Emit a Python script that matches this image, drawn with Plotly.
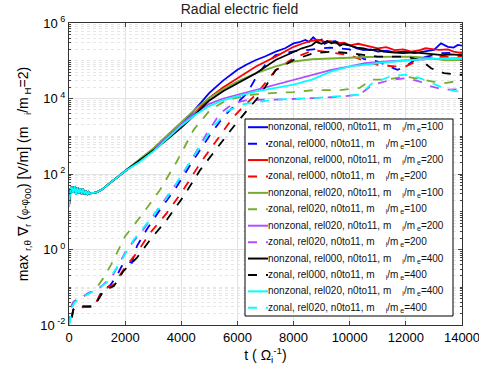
import numpy as np
import plotly.graph_objects as go

# ---------------- data (values are log10 of the field) ----
t_early = [0, 30, 60, 100, 150, 200, 250, 300, 350, 400, 450, 500, 550, 600, 650, 700,
           750, 800, 900, 1000, 1100, 1200, 1350, 1500, 1750, 2000]
early_log = [1.15, 1.4, 1.62, 1.66, 1.5, 1.68, 1.45, 1.65, 1.48, 1.62, 1.47, 1.6, 1.46, 1.56,
             1.45, 1.52, 1.47, 1.5, 1.5, 1.52, 1.55, 1.6, 1.7, 1.78, 1.93, 2.08]

blue_solid_t = [2500, 3000, 3500, 4000, 4500, 5000, 5500, 6000, 6330, 6660, 7000, 7360, 7700, 8000,
                8200, 8420, 8550, 8700, 8850, 9000, 9100, 9250, 9480, 9700, 10000, 10250, 10500,
                10750, 11000, 11300, 11600, 12000, 12300, 12600, 13000, 13250, 13500, 13700, 13850, 14000]
blue_solid_log = [2.37, 2.66, 2.98, 3.3, 3.72, 4.15, 4.48, 4.76, 4.9, 5.02, 5.12, 5.24, 5.33, 5.46,
                  5.49, 5.55, 5.5, 5.62, 5.52, 5.56, 5.45, 5.5, 5.52, 5.45, 5.41, 5.33, 5.28,
                  5.3, 5.24, 5.27, 5.22, 5.25, 5.2, 5.24, 5.29, 5.46, 5.37, 5.35, 5.42, 5.4]

red_solid_t = [2500, 3000, 3500, 4000, 4500, 5000, 5500, 6000, 6660, 7360, 8000, 8300, 8650, 8900,
               9100, 9300, 9500, 9800, 10000, 10300, 10550, 10800, 11000, 11300, 11600, 11900,
               12200, 12500, 12700, 13000, 13200, 13500, 13700, 14000]
red_solid_log = [2.35, 2.63, 2.93, 3.25, 3.62, 4.02, 4.3, 4.54, 4.85, 5.11, 5.37, 5.45, 5.53, 5.55,
                 5.5, 5.52, 5.46, 5.48, 5.41, 5.45, 5.41, 5.35, 5.33, 5.36, 5.28, 5.3,
                 5.24, 5.28, 5.33, 5.3, 5.29, 5.3, 5.24, 5.2]

black_solid_t = [2500, 3000, 3500, 4000, 4500, 5000, 5500, 6000, 6660, 7360, 8000, 8300, 8650, 8800,
                 9000, 9200, 9350, 9500, 9650, 9800, 10000, 10250, 10500, 10700, 11000, 11200,
                 11500, 11900, 12300, 12600, 13000, 13300, 13600, 14000]
black_solid_log = [2.34, 2.62, 2.92, 3.23, 3.58, 3.95, 4.2, 4.41, 4.67, 5.02, 5.24, 5.33, 5.41, 5.5,
                   5.45, 5.52, 5.46, 5.5, 5.4, 5.45, 5.41, 5.35, 5.33, 5.28, 5.3, 5.24,
                   5.22, 5.2, 5.22, 5.2, 5.18, 5.15, 5.17, 5.15]

green_solid_t = [2500, 3000, 3500, 4000, 4500, 5000, 5500, 6000, 6660, 7360, 8000, 8650, 9350, 10000,
                 10550, 11300, 12200, 12900, 13400, 14000]
green_solid_log = [2.38, 2.68, 3.03, 3.38, 3.72, 4.02, 4.25, 4.45, 4.67, 4.85, 4.98, 5.04, 5.07, 5.08,
                   5.1, 5.11, 5.11, 5.07, 5.01, 5.02]

purple_solid_t = [2500, 3000, 3500, 4000, 4500, 5000, 5500, 6000, 6660, 7360, 8000, 8650, 9350, 10000,
                  10550, 11300, 12200, 12900, 14000]
purple_solid_log = [2.33, 2.63, 2.98, 3.32, 3.62, 3.86, 4.0, 4.1, 4.23, 4.36, 4.5, 4.63, 4.76, 4.85,
                    4.94, 4.98, 5.02, 5.05, 5.07]

cyan_solid_t = [2500, 3000, 3500, 4000, 4500, 5000, 5500, 6000, 6660, 7360, 8000, 8650, 9350, 10000,
                10550, 11300, 12200, 12900, 14000]
cyan_solid_log = [2.31, 2.6, 2.94, 3.28, 3.57, 3.8, 3.96, 4.06, 4.19, 4.28, 4.37, 4.5, 4.72, 4.85,
                  4.9, 4.96, 5.02, 5.05, 5.05]

blue_dash_t = [100, 150, 300, 500, 700, 900, 1000, 1100, 1230, 1470, 1700, 1880, 2060, 2240, 2420,
               2770, 3250, 3840, 4440, 5030, 5510, 6000, 6340, 6700, 7000, 7360, 8000, 8700, 9300,
               10000, 10500, 11000, 11700, 12000, 12400, 12700, 13300, 14000]
blue_dash_log = [-1.8, -1.59, -1.5, -1.52, -1.5, -1.5, -1.38, -1.2, -1.06, -0.95, -0.7, -0.44, -0.3,
                 -0.35, 0.09, 0.53, 1.06, 1.67, 2.38, 3.04, 3.52, 3.88, 4.14, 4.6, 4.9, 5.15, 5.25,
                 5.3, 5.35, 5.3, 5.05, 4.98, 4.76, 4.85, 5.07, 5.1, 5.2, 5.22]

red_dash_t = [100, 150, 300, 500, 700, 900, 1000, 1230, 1600, 1940, 2416, 2892, 3487, 4082, 4677,
              5272, 5867, 6343, 6700, 7360, 8000, 8700, 9300, 10000, 10500, 11000, 11600, 12000,
              12400, 13000, 14000]
red_dash_log = [-1.8, -1.59, -1.5, -1.53, -1.5, -1.52, -1.35, -1.06, -0.93, -0.53, -0.09, 0.44, 0.97,
                1.59, 2.29, 2.91, 3.52, 3.88, 4.14, 4.75, 5.07, 5.28, 5.22, 5.15, 5.0, 4.89, 4.85,
                4.85, 5.0, 5.1, 5.12]

black_dash_t = [100, 150, 300, 500, 700, 900, 1000, 1230, 1600, 1940, 2416, 2892, 3487, 4082, 4677,
                5272, 5867, 6462, 6820, 7360, 8000, 8700, 9400, 10000, 10550, 11000, 11950, 12540,
                12900, 13360, 14000]
black_dash_log = [-1.8, -1.6, -1.52, -1.5, -1.52, -1.5, -1.38, -1.1, -0.97, -0.57, -0.22, 0.26, 0.79,
                  1.41, 2.11, 2.69, 3.26, 3.79, 4.1, 4.75, 5.02, 5.2, 5.24, 5.2, 5.15, 5.11, 5.11,
                  5.02, 4.8, 4.67, 4.63]

green_dash_t = [0, 60, 150, 300, 500, 700, 900, 1000, 1230, 1500, 2000, 2650, 3250, 3840, 4440, 5030,
                5630, 6000, 6500, 7360, 8000, 8700, 9650, 10350, 10800, 11300, 12000, 12500, 12950,
                13400, 14000]
green_dash_log = [-2.0, -1.55, -1.4, -1.3, -1.25, -1.15, -1.08, -1.0, -0.75, -0.4, 0.35, 0.97, 1.59,
                  2.33, 3.17, 3.7, 3.96, 4.02, 4.1, 4.15, 4.17, 4.22, 4.22, 4.28, 4.5, 4.5, 4.58,
                  4.52, 4.45, 4.41, 4.48]

purple_dash_t = [0, 60, 150, 300, 500, 700, 900, 1000, 1200, 1580, 2060, 2650, 3250, 3840, 4440, 4915,
                 5390, 5870, 6340, 7360, 8700, 9500, 10350, 10800, 11500, 12000, 12500, 12900, 13400,
                 14000]
purple_dash_log = [-2.0, -1.55, -1.4, -1.3, -1.25, -1.15, -1.1, -1.05, -0.95, -0.66, 0.0, 0.53, 1.15,
                   1.76, 2.47, 3.08, 3.61, 3.88, 3.96, 3.97, 4.01, 4.04, 4.1, 4.36, 4.5, 4.54, 4.45,
                   4.32, 4.23, 4.25]

cyan_dash_t = [0, 40, 100, 200, 400, 600, 800, 1000, 1340, 1820, 2300, 2890, 3490, 4080, 4680, 5150,
               5630, 6100, 6600, 7360, 8700, 9650, 10350, 10800, 11500, 12000, 12500, 13200, 13700,
               14000]
cyan_dash_log = [-2.0, -1.9, -1.55, -1.4, -1.3, -1.22, -1.12, -1.05, -0.88, -0.35, 0.26, 0.79, 1.37,
                 2.03, 2.73, 3.26, 3.66, 3.83, 3.9, 3.97, 4.01, 4.06, 4.1, 4.4, 4.6, 4.63, 4.54,
                 4.32, 4.2, 4.18]

y_tick_vals = [1e-2, 1e0, 1e2, 1e4, 1e6]
y_tick_text = ["10<sup> -2</sup>", "10<sup> 0</sup>", "10<sup> 2</sup>", "10<sup> 4</sup>", "10<sup> 6</sup>"]
x_tick_vals = [0, 2000, 4000, 6000, 8000, 10000, 12000, 14000]
x_tick_text = ["0", "2000", "4000", "6000", "8000", "10000", "12000", "14000"]

SP = "&nbsp;"
def lab(kind, rel, ratio):
    return f"{kind}, {rel}, n0to11, m{SP*4}<sub>i</sub>/m<sub> e</sub>={ratio}"

series = [
    (lab("nonzonal", "rel000", 100), t_early + blue_solid_t, early_log + blue_solid_log, "#0000FF", "solid"),
    (lab("zonal", "rel000", 100), blue_dash_t, blue_dash_log, "#0000FF", "dash"),
    (lab("nonzonal", "rel000", 200), t_early + red_solid_t, early_log + red_solid_log, "#FF0000", "solid"),
    (lab("zonal", "rel000", 200), red_dash_t, red_dash_log, "#FF0000", "dash"),
    (lab("nonzonal", "rel020", 100), t_early + green_solid_t, early_log + green_solid_log, "#77AC30", "solid"),
    (lab("zonal", "rel020", 100), green_dash_t, green_dash_log, "#77AC30", "dash"),
    (lab("nonzonal", "rel020", 200), t_early + purple_solid_t, early_log + purple_solid_log, "#B14DFF", "solid"),
    (lab("zonal", "rel020", 200), purple_dash_t, purple_dash_log, "#B14DFF", "dash"),
    (lab("nonzonal", "rel000", 400), t_early + black_solid_t, early_log + black_solid_log, "#000000", "solid"),
    (lab("zonal", "rel000", 400), black_dash_t, black_dash_log, "#000000", "dash"),
    (lab("nonzonal", "rel020", 400), t_early + cyan_solid_t, early_log + cyan_solid_log, "#00FFFF", "solid"),
    (lab("zonal", "rel020", 400), cyan_dash_t, cyan_dash_log, "#00FFFF", "dash"),
]

# ---------------- layout geometry (pixels) ----
W, H = 479, 374
ML, MR, MT, MB = 69, 17, 23, 49
PW, PH = W - ML - MR, H - MT - MB


def px_x(px):
    return (px - ML) / PW


def px_y(py):
    return (H - MB - py) / PH


fig = go.Figure()
for name, t, lg, col, dash in series:
    fig.add_trace(go.Scatter(x=t, y=np.power(10.0, lg), mode="lines", name=name, showlegend=False,
                             line=dict(color=col, width=1.8, dash=dash)))

# legend box drawn in paper coordinates (tight row spacing like the original)
LEG_L, LEG_R, LEG_T, LEG_B = 245, 453, 119, 316
ROW = (LEG_B - LEG_T) / len(series)
shapes = [dict(type="rect", xref="paper", yref="paper", layer="above",
               x0=px_x(LEG_L), x1=px_x(LEG_R), y0=px_y(LEG_B), y1=px_y(LEG_T),
               fillcolor="white", line=dict(color="black", width=1))]
annotations = []
for i, (name, t, lg, col, dash) in enumerate(series):
    cy = LEG_T + ROW * (i + 0.5)
    shapes.append(dict(type="line", xref="paper", yref="paper", layer="above",
                       x0=px_x(248), x1=px_x(268), y0=px_y(cy), y1=px_y(cy),
                       line=dict(color=col, width=2, dash="dash" if dash == "dash" else "solid")))
    annotations.append(dict(xref="paper", yref="paper", x=px_x(266), y=px_y(cy),
                            xanchor="left", yanchor="middle", showarrow=False, text=name,
                            font=dict(size=10, color="#111111")))

minor_vals = [m * 10.0 ** d for d in range(-2, 6) for m in range(2, 10)] + [1e-1, 1e1, 1e3, 1e5]

FONT = "Liberation Sans, Arial, sans-serif"
fig.update_layout(
    width=W, height=H,
    margin=dict(l=ML, r=MR, t=MT, b=MB, autoexpand=False),
    paper_bgcolor="white", plot_bgcolor="white",
    font=dict(family=FONT, size=12, color="black"),
    title=dict(text="Radial electric field", x=0.5, xanchor="center",
               y=0.99, yanchor="top", font=dict(size=14, color="#222222")),
    showlegend=False,
    shapes=shapes,
    annotations=annotations,
)
fig.update_xaxes(range=[0, 14000], tickvals=x_tick_vals, ticktext=x_tick_text,
                 ticks="inside", ticklen=4, automargin=False, ticklabeloverflow="allow",
                 showline=True, linecolor="#333333", linewidth=1, mirror="ticks",
                 showgrid=True, gridcolor="#E3E3E3", gridwidth=1, zeroline=False,
                 tickfont=dict(size=13),
                 title=dict(text="t ( Ω<sub>i</sub><sup>-1</sup>)", font=dict(size=14), standoff=6))
ytitle = ("max <sub>r,θ</sub> ∇<sub>r</sub> (<span style='font-size:10px'>φ-φ</span><sub>00</sub>) "
          "[V/m] (m" + SP * 3 + "<sub>i</sub>/m<sub> H</sub>=2)")
fig.update_yaxes(type="log", range=[-2, 6], tickvals=y_tick_vals, ticktext=y_tick_text,
                 ticks="inside", ticklen=4, automargin=False,
                 showline=True, linecolor="#333333", linewidth=1, mirror="ticks",
                 showgrid=True, gridcolor="#E3E3E3", gridwidth=1, zeroline=False,
                 tickfont=dict(size=13),
                 minor=dict(tickvals=minor_vals, ticks="inside", ticklen=2, showgrid=True,
                            gridcolor="#E6E6E6", griddash="dot", gridwidth=1),
                 title=dict(text=ytitle, font=dict(size=14), standoff=8))

# the page body has a default 8px margin; remove it so the figure fills the window exactly
fig.write_html("out.html", config={"displayModeBar": False},
               post_script="document.body.style.margin='0';document.body.style.overflow='hidden';")
